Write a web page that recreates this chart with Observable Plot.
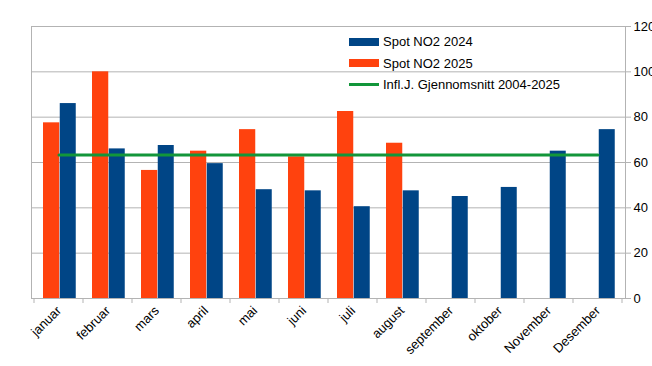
<!DOCTYPE html>
<html>
<head>
<meta charset="utf-8">
<script src="https://cdn.jsdelivr.net/npm/d3@7"></script>
<script src="https://cdn.jsdelivr.net/npm/@observablehq/plot@0.6"></script>
<style>
  html, body { margin: 0; padding: 0; background: #fff; }
  #wrap { position: relative; width: 652px; height: 366px; overflow: hidden; font-family: "Liberation Sans", Arial, sans-serif; }
  #legend { position: absolute; left: 349px; top: 31px; font-size: 13px; color: #000; }
  .row { display: flex; align-items: center; height: 21.5px; }
  .sw { width: 30px; height: 8px; margin-right: 4px; }
  .ln { width: 30px; height: 3px; margin-right: 4px; }
</style>
</head>
<body>
<div id="wrap"></div>
<script>
const months = ["januar","februar","mars","april","mai","juni","juli","august","september","oktober","November","Desember"];
const v2024 = [86, 66, 67.5, 59.5, 48, 47.5, 40.5, 47.5, 45, 49, 65, 74.5];
const v2025 = [77.5, 100, 56.5, 65, 74.5, 62.5, 82.5, 68.5];
const avg = 63.3;
const yTicks = [0, 20, 40, 60, 80, 100, 120];
const seriesNames = ["Spot NO2 2024", "Spot NO2 2025", "Infl.J. Gjennomsnitt 2004-2025"];
const colors = ["#004586", "#ff420e", "#12963a"];

const d2024 = months.map((m, i) => ({month: m, value: v2024[i]}));
const d2025 = v2025.map((v, i) => ({month: months[i], value: v}));
const dAvg = months.map(m => ({month: m, value: avg}));

const grey = "#b3b3b3";

function boundaryTicks(index, scales, values, dims) {
  const x = scales.x, y = scales.y;
  const bw = typeof x.bandwidth === "function" ? x.bandwidth() : x.bandwidth;
  const xs = months.map(m => x(m)).concat([x(months[months.length - 1]) + bw]);
  const y0 = y(0);
  const g = d3.create("svg:g").attr("stroke", grey).attr("stroke-width", 1);
  for (const px of xs) {
    g.append("line").attr("x1", px).attr("x2", px).attr("y1", y0).attr("y2", y0 + 5);
  }
  return g.node();
}

const chart = Plot.plot({
  width: 652,
  height: 366,
  marginLeft: 31,
  marginRight: 27,
  marginTop: 26,
  marginBottom: 68,
  style: {fontFamily: "'Liberation Sans', Arial, sans-serif", fontSize: "13px", color: "#000", background: "#fff"},
  x: {domain: months, padding: 0, label: null},
  y: {domain: [0, 120], label: null},
  marks: [
    Plot.gridY(yTicks, {stroke: grey, strokeOpacity: 1}),
    Plot.frame({stroke: grey}),
    Plot.barY(d2025, {x: "month", y: "value", fill: colors[1], insetLeft: 9, insetRight: 23.75}),
    Plot.barY(d2024, {x: "month", y: "value", fill: colors[0], insetLeft: 25.75, insetRight: 7.25}),
    Plot.lineY(dAvg, {x: "month", y: "value", stroke: colors[2], strokeWidth: 3}),
    Plot.axisY(yTicks, {anchor: "right", tickSize: 5, tickPadding: 3, stroke: grey, fill: "#000", fontSize: 13, label: null}),
    Plot.axisX({anchor: "bottom", tickSize: 0, tickPadding: 10, tickRotate: -45, fill: "#000", fontSize: 13, label: null}),
    boundaryTicks
  ]
});

const wrap = document.getElementById("wrap");
wrap.appendChild(chart);

const legend = document.createElement("div");
legend.id = "legend";
const legendItems = [
  {name: seriesNames[0], color: colors[0], cls: "sw"},
  {name: seriesNames[1], color: colors[1], cls: "sw"},
  {name: seriesNames[2], color: colors[2], cls: "ln"}
];
for (const it of legendItems) {
  const row = document.createElement("div");
  row.className = "row";
  const s = document.createElement("div");
  s.className = it.cls;
  s.style.background = it.color;
  const t = document.createElement("span");
  t.textContent = it.name;
  row.appendChild(s);
  row.appendChild(t);
  legend.appendChild(row);
}
wrap.appendChild(legend);
</script>
</body>
</html>
